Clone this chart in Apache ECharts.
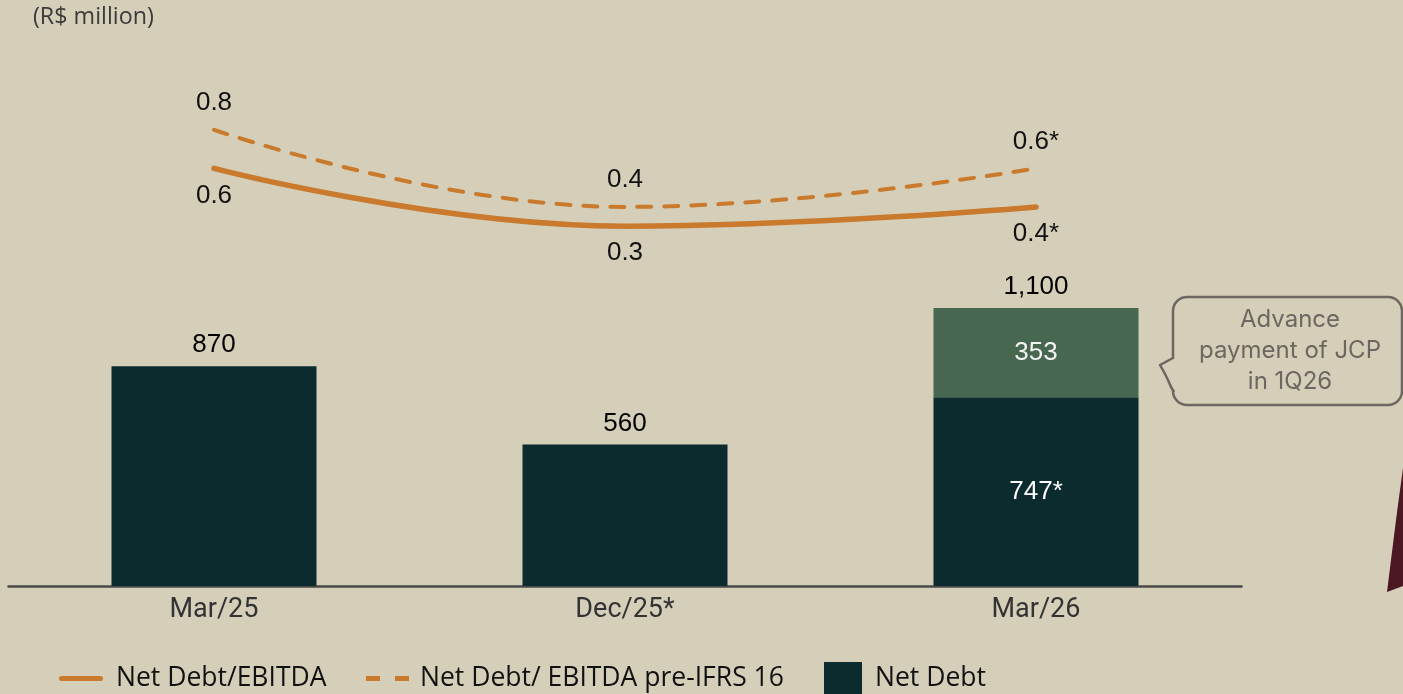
<!DOCTYPE html>
<html>
<head>
<meta charset="utf-8">
<title>Net Debt</title>
<script src="https://cdn.jsdelivr.net/npm/echarts@6/dist/echarts.min.js"></script>
<style>
  html, body { margin: 0; padding: 0; background: #d5cfb9; }
  #chart { width: 1403px; height: 694px; }
</style>
</head>
<body>
<div id="chart"></div>
<script>
// Periods on the x axis
const categories = ['Mar/25', 'Dec/25*', 'Mar/26'];

// Net debt (R$ million): base amount and the JCP advance stacked on top
const netDebt = [870, 560, 747];
const jcpAdvance = [null, null, 353];
const netDebtTotal = [870, 560, 1100];
const netDebtLabels = ['870', '560', '747*'];

// Leverage ratios
const leverage = [0.6, 0.3, 0.4];
const leverageLabels = ['0.6', '0.3', '0.4*'];
const leveragePreIFRS = [0.8, 0.4, 0.6];
const leveragePreIFRSLabels = ['0.8', '0.4', '0.6*'];

const ORANGE = '#c97a2c';
const DARK = '#0c2b2e';
const GREEN = '#476750';
const BG = '#d5cfb9';
const NUM_FONT = '"Liberation Sans", Arial, sans-serif';
const TEXT_FONT = '"Open Sans", sans-serif';

const legendText = { fontSize: 26.5, color: '#111', fontFamily: TEXT_FONT };

const chart = echarts.init(document.getElementById('chart'));

chart.setOption({
  backgroundColor: BG,
  animation: false,
  grid: { left: 8.5, right: 161.5, top: 30, bottom: 108, containLabel: false },
  xAxis: {
    type: 'category',
    data: categories,
    axisLine: { lineStyle: { color: '#4a4a4a', width: 2.5 } },
    axisTick: { show: false },
    axisLabel: { color: '#333', fontSize: 27, fontFamily: 'Roboto, sans-serif', margin: 11 }
  },
  yAxis: [
    { type: 'value', min: 0, max: 2200, show: false },
    { type: 'value', min: -1.569, max: 1.319, show: false }
  ],
  legend: [
    {
      data: [{ name: 'Net Debt/EBITDA', icon: 'path://M2.5,0H41.5A2.5,2.5,0,0,1,41.5,5H2.5A2.5,2.5,0,0,1,2.5,0Z' }],
      left: 59, top: 665, padding: 0,
      itemWidth: 44, itemHeight: 5, itemGap: 0,
      textStyle: Object.assign({ padding: [0, 0, 0, 8] }, legendText)
    },
    {
      data: [{ name: 'Net Debt/ EBITDA pre-IFRS 16', icon: 'path://M0,0H14V5H0Z M29,0H43V5H29Z' }],
      left: 366, top: 665, padding: 0,
      itemWidth: 43, itemHeight: 5, itemGap: 0,
      textStyle: Object.assign({ padding: [0, 0, 0, 6] }, legendText)
    },
    {
      data: [{ name: 'Net Debt', icon: 'rect' }],
      left: 824, top: 662, padding: 0,
      itemWidth: 38, itemHeight: 32, itemGap: 0,
      textStyle: Object.assign({ padding: [0, 0, 0, 8] }, legendText)
    }
  ],
  series: [
    {
      name: 'Net Debt',
      type: 'bar',
      stack: 'debt',
      barWidth: 205,
      yAxisIndex: 0,
      itemStyle: { color: DARK },
      data: netDebt.map((v, i) => ({
        value: v,
        label: i === 2
          ? { show: true, position: 'inside', color: '#fff', formatter: netDebtLabels[i] }
          : { show: true, position: 'top', distance: 8, color: '#000', formatter: netDebtLabels[i] }
      })),
      label: { fontSize: 26, fontFamily: NUM_FONT }
    },
    {
      name: 'JCP',
      type: 'bar',
      stack: 'debt',
      barWidth: 205,
      yAxisIndex: 0,
      itemStyle: { color: GREEN },
      data: jcpAdvance,
      label: {
        show: true, position: 'inside', color: '#f2f2f2', fontSize: 26, fontFamily: NUM_FONT,
        formatter: p => String(p.value)
      }
    },
    {
      // total label above the stacked bar
      name: 'JCP total',
      type: 'bar',
      stack: 'debt',
      barWidth: 205,
      yAxisIndex: 0,
      itemStyle: { color: 'transparent' },
      data: jcpAdvance.map(v => (v == null ? null : 0)),
      label: {
        show: true, position: 'top', distance: 8, color: '#000', fontSize: 26, fontFamily: NUM_FONT,
        formatter: p => netDebtTotal[p.dataIndex].toLocaleString('en-US')
      }
    },
    {
      name: 'Net Debt/ EBITDA pre-IFRS 16',
      type: 'line',
      yAxisIndex: 1,
      smooth: 0.45,
      symbol: 'circle',
      symbolSize: 0.01,
      showSymbol: true,
      data: leveragePreIFRS,
      lineStyle: { color: ORANGE, width: 4, type: [14, 13], cap: 'round' },
      itemStyle: { color: ORANGE },
      label: {
        show: true, position: 'top', distance: 14, color: '#111', fontSize: 26, fontFamily: NUM_FONT,
        formatter: p => leveragePreIFRSLabels[p.dataIndex]
      }
    },
    {
      name: 'Net Debt/EBITDA',
      type: 'line',
      yAxisIndex: 1,
      smooth: 0.45,
      symbol: 'circle',
      symbolSize: 0.01,
      showSymbol: true,
      data: leverage,
      lineStyle: { color: ORANGE, width: 5.5, cap: 'round' },
      itemStyle: { color: ORANGE },
      label: {
        show: true, position: 'bottom', distance: 14, color: '#111', fontSize: 26, fontFamily: NUM_FONT,
        formatter: p => leverageLabels[p.dataIndex]
      }
    }
  ],
  graphic: [
    {
      type: 'text', x: 33, y: 6,
      style: { text: '(R$ million)', fill: '#3b3b3b', fontSize: 23.3, fontFamily: TEXT_FONT }
    },
    {
      // callout bubble
      type: 'rect',
      shape: { x: 1173, y: 297, width: 229, height: 108, r: 14 },
      style: { fill: 'none', stroke: '#6e6660', lineWidth: 2.5 }
    },
    {
      type: 'rect',
      shape: { x: 1170, y: 359, width: 6, height: 31 },
      style: { fill: BG }
    },
    {
      type: 'polyline',
      shape: { points: [[1173, 358], [1160, 365], [1164, 372], [1168, 380], [1171, 387], [1174, 392]] },
      style: { fill: 'none', stroke: '#6e6660', lineWidth: 2.5, lineJoin: 'round' }
    },
    {
      type: 'text', x: 1290, y: 351,
      style: {
        text: 'Advance\npayment of JCP\nin 1Q26', fill: '#6e6660', fontSize: 24, lineHeight: 31,
        fontFamily: 'Inter, sans-serif', align: 'center', verticalAlign: 'middle'
      }
    },
    {
      // edge of the decorative figure at the right border
      type: 'polygon',
      shape: { points: [[1387, 592], [1391, 560], [1396, 520], [1400, 490], [1403, 468], [1403, 586]] },
      style: { fill: '#4a1722' }
    }
  ]
});
</script>
</body>
</html>
